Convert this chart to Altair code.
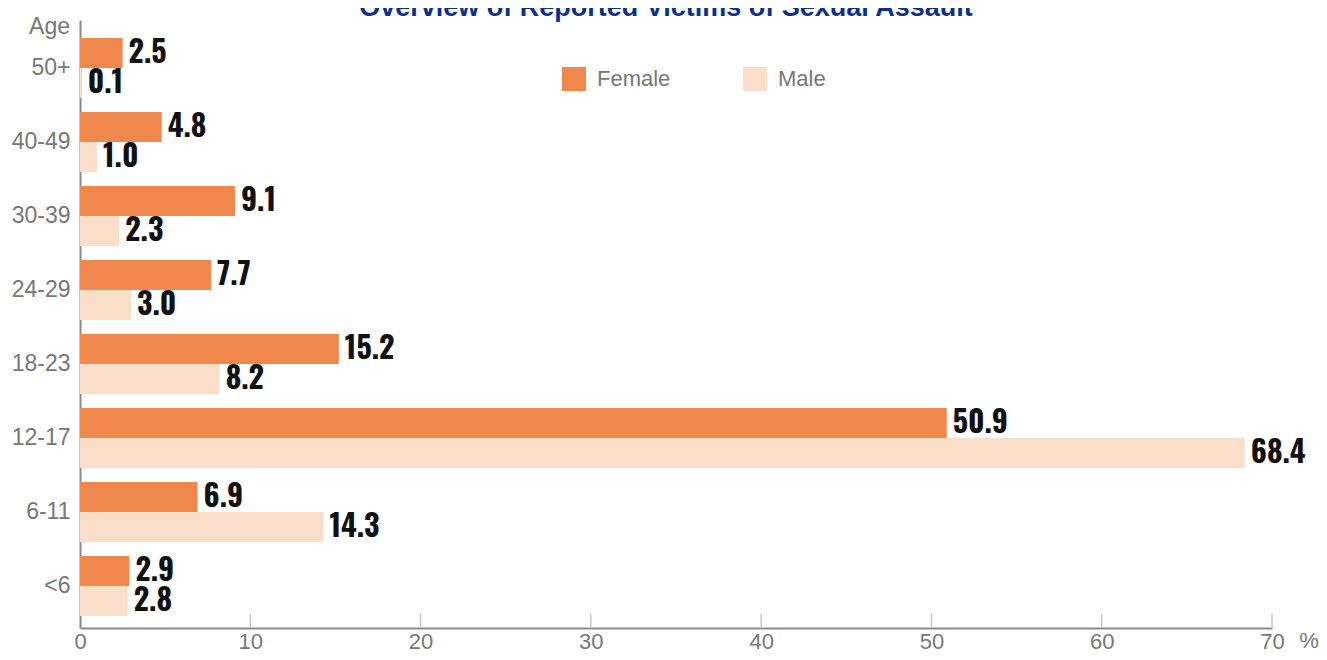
import altair as alt
import pandas as pd

ages = ["50+", "40-49", "30-39", "24-29", "18-23", "12-17", "6-11", "<6"]
female = [2.5, 4.8, 9.1, 7.7, 15.2, 50.9, 6.9, 2.9]
male = [0.1, 1.0, 2.3, 3.0, 8.2, 68.4, 14.3, 2.8]
sexes = ["Female", "Male"]
x_ticks = [0, 10, 20, 30, 40, 50, 60, 70]
title_text = "Overview of Reported Victims of Sexual Assault"

rows = []
for a, f, m in zip(ages, female, male):
    rows.append({"age": a, "sex": "Female", "value": f})
    rows.append({"age": a, "sex": "Male", "value": m})
df = pd.DataFrame(rows)

W, H = 1192, 608
x_scale = alt.Scale(domain=[0, 70], nice=False, zero=True)
y_scale = alt.Scale(domain=ages, paddingInner=0.189, paddingOuter=0.2027, align=0.6)
yoff_scale = alt.Scale(domain=sexes, paddingInner=0, paddingOuter=0)

base = alt.Chart(df)

bars = base.mark_bar().encode(
    x=alt.X("value:Q", scale=x_scale,
            axis=alt.Axis(values=x_ticks, title=None, ticks=False, grid=False,
                          labelFontSize=22, labelColor="#777777", labelPadding=3,
                          labelFlush=False, labelFont="Liberation Sans",
                          domainColor="#8a8a8a", domainWidth=2)),
    y=alt.Y("age:N", sort=ages, scale=y_scale,
            axis=alt.Axis(title=None, ticks=False, labelFontSize=23, labelColor="#777777",
                          labelPadding=10, labelFont="Liberation Sans",
                          domainColor="#8a8a8a", domainWidth=2)),
    yOffset=alt.YOffset("sex:N", sort=sexes, scale=yoff_scale),
    color=alt.Color("sex:N", scale=alt.Scale(domain=sexes, range=["#F0874C", "#FBDEC9"]),
                    legend=alt.Legend(orient="none", legendX=482, legendY=47,
                                      direction="horizontal", title=None,
                                      symbolType="square", symbolSize=576,
                                      symbolStrokeWidth=0, symbolOpacity=1,
                                      labelFontSize=22, labelColor="#777777",
                                      labelFont="Liberation Sans", labelOffset=11,
                                      columnPadding=72, padding=0)),
)

labels = base.mark_text(
    align="left", baseline="middle", dx=6, dy=1, fontSize=30, fontWeight="bold",
    font="Oswald", color="#111111",
).encode(
    x=alt.X("value:Q", scale=x_scale),
    y=alt.Y("age:N", sort=ages, scale=y_scale),
    yOffset=alt.YOffset("sex:N", sort=sexes, scale=yoff_scale),
    text=alt.Text("value:Q", format=".1f"),
)

ticks = alt.Chart(pd.DataFrame({"t": x_ticks[1:]})).mark_rule(
    color="#c8c8c8", strokeWidth=1.5
).encode(
    x=alt.X("t:Q", scale=x_scale),
    y=alt.value(H - 14),
    y2=alt.value(H),
)

title = alt.Chart(pd.DataFrame({"t": [title_text]})).mark_text(
    align="center", baseline="alphabetic", fontSize=27, fontWeight="bold",
    font="Liberation Sans", color="#0B2F8F",
).encode(text="t:N", x=alt.value(586), y=alt.value(-4))

age_lbl = alt.Chart(pd.DataFrame({"t": ["Age"]})).mark_text(
    align="right", baseline="middle", fontSize=23, font="Liberation Sans", color="#777777",
).encode(text="t:N", x=alt.value(-10), y=alt.value(7))

pct_lbl = alt.Chart(pd.DataFrame({"t": ["%"]})).mark_text(
    align="center", baseline="top", fontSize=22, font="Liberation Sans", color="#777777",
).encode(text="t:N", x=alt.value(1229), y=alt.value(H + 3))

chart = alt.layer(bars, labels, ticks, title, age_lbl, pct_lbl).properties(
    width=W, height=H,
    autosize=alt.AutoSizeParams(type="none"),
    padding={"left": 72, "top": 12, "right": 47, "bottom": 24},
).configure_view(stroke=None)

chart.save("out.html", embed_options={"renderer": "svg", "actions": False})
